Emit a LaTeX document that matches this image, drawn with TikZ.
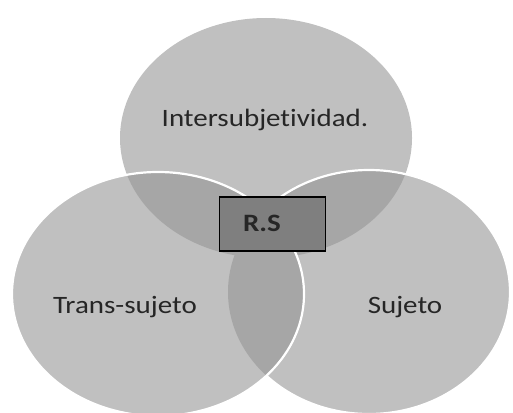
\documentclass[tikz,border=0pt]{standalone}
\usepackage{fontspec}
\setmainfont{Carlito}[Ligatures=NoCommon]
\definecolor{light}{HTML}{C0C0C0}
\definecolor{dark}{HTML}{A6A6A6}
\definecolor{boxfill}{HTML}{7F7F7F}
\definecolor{txt}{HTML}{262626}
\newcommand{\wide}[1]{\scalebox{1.16}[1]{#1}}
\tikzset{
  lbl/.style={text=txt, font=\fontsize{25}{30}\selectfont, inner sep=0pt, anchor=base},
  rsbox/.style={draw=black, line width=1.5pt, fill=boxfill, minimum width=106pt, minimum height=54pt, inner sep=0pt},
  rim/.style={draw=white, line width=2.2pt}
}
\begin{document}
\begin{tikzpicture}[x=1pt,y=-1pt]
\useasboundingbox (0,0) rectangle (513,412);
\def\topE{(266,138) ellipse [x radius=146, y radius=120]}
\def\leftE{(158,294) ellipse [x radius=146, y radius=122]}
\def\rightE{(369,292) ellipse [x radius=141, y radius=122]}
% base fills
\fill[light] \topE;
\fill[light] \leftE;
\fill[light] \rightE;
% overlaps
\begin{scope}
  \clip \topE;
  \fill[dark] \leftE;
  \fill[dark] \rightE;
\end{scope}
\begin{scope}
  \clip \leftE;
  \fill[dark] \rightE;
\end{scope}
% white rims
\begin{scope}[even odd rule]
  \clip (-10,-10) rectangle (523,422) \leftE;
  \draw[rim] \rightE;
\end{scope}
\draw[rim] \leftE;
% box
\node[rsbox] (rs) at (272.5,224) {};
\node[lbl, font=\bfseries\fontsize{25}{30}\selectfont] (rstext) at (262,231) {\wide{R.S}};
% labels
\node[lbl] (inter) at (265,126) {\wide{Intersubjetividad.}};
\node[lbl] (trans) at (125,313) {\wide{Trans-sujeto}};
\node[lbl] (suj) at (405,313) {\wide{Sujeto}};
\end{tikzpicture}
\end{document}
